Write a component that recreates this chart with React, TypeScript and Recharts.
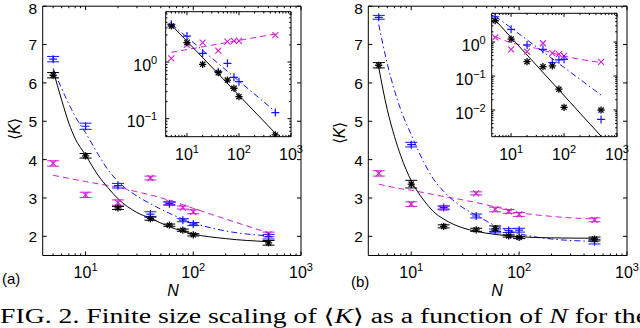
import React from 'react';
import { ComposedChart, XAxis, YAxis, Line, Scatter, ErrorBar } from 'recharts';

// ---------------- data ----------------
const N = [5, 10, 20, 40, 60, 80, 100, 500];
const fitN = [5, 6, 7, 8, 10, 13, 16, 20, 30, 40, 60, 100, 200, 500];

// panel (a) main
const aBlackK = [6.2, 4.1, 2.74, 2.46, 2.29, 2.16, 2.04, 1.83];
const aBlackErr = [0.07, 0.06, 0.04, 0.04, 0.03, 0.03, 0.03, 0.06];
const aBlueK = [6.62, 4.87, 3.32, 2.58, 2.85, 2.42, 2.32, 1.99];
const aBlueErr = [0.07, 0.08, 0.06, 0.06, 0.04, 0.04, 0.04, 0.06];
const aMagK = [3.9, 3.08, 2.88, 3.52, 2.87, 2.75, 2.64, 2.05];
const aMagErr = [0.07, 0.07, 0.07, 0.05, 0.04, 0.04, 0.05, 0.06];
const aBlackFit = [6.33, 5.55, 4.95, 4.55, 4.12, 3.6, 3.28, 2.98, 2.62, 2.47, 2.25, 2.06, 1.94, 1.86];
const aBlueFit = [6.38, 5.85, 5.45, 5.13, 4.7, 4.15, 3.75, 3.43, 3.05, 2.85, 2.6, 2.35, 2.14, 2.01];
const aMagFit = [3.59, 3.55, 3.51, 3.48, 3.43, 3.37, 3.33, 3.28, 3.16, 3.08, 2.94, 2.73, 2.45, 2.09];

// panel (b) main
const bBlackK = [6.46, 3.36, 2.26, 2.17, 2.2, 2.01, 1.97, 1.93];
const bBlackErr = [0.07, 0.1, 0.04, 0.04, 0.07, 0.03, 0.03, 0.05];
const bBlueK = [7.71, 4.39, 2.75, 2.53, 2.14, 2.15, 2.16, 1.86];
const bBlueErr = [0.05, 0.06, 0.04, 0.05, 0.05, 0.05, 0.05, 0.06];
const bMagK = [3.64, 2.84, 2.74, 3.12, 2.7, 2.65, 2.57, 2.43];
const bMagErr = [0.07, 0.06, 0.05, 0.04, 0.06, 0.05, 0.05, 0.05];
const bBlackFit = [6.4, 5.3, 4.6, 4.1, 3.45, 2.95, 2.65, 2.45, 2.22, 2.13, 2.05, 1.99, 1.96, 1.95];
const bBlueFit = [7.52, 6.5, 5.8, 5.3, 4.65, 3.95, 3.5, 3.17, 2.75, 2.55, 2.28, 2.07, 1.93, 1.87];
const bMagFit = [3.36, 3.31, 3.27, 3.24, 3.2, 3.14, 3.09, 3.04, 2.95, 2.88, 2.77, 2.62, 2.52, 2.45];

// inset (a)
const iaBlack = [4.31, 2.19, 0.91, 0.65, 0.48, 0.344, 0.244, 0.0516];
const iaBlue = [4.62, 2.87, 1.42, 0.674, 0.949, 0.537, 0.45, 0.128];
const iaMag = [1.16, 2.0, 2.19, 1.58, 2.28, 2.35, 2.35, 2.99];
const iaFitN = [5, 500];
const iaBlackFit = [4.5, 0.0553];
const iaBlueFit = [4.68, 0.133];
const iaMagFit = [1.48, 3.12];

// inset (b)
const ibBlack = [4.23, 1.22, 0.264, 0.188, 0.2, 0.041, 0.012, 0.01];
const ibBlue = [5.55, 2.36, 0.82, 0.61, 0.25, 0.3, 0.31, 0.0053];
const ibMag = [1.37, 0.61, 0.52, 0.92, 0.47, 0.44, 0.39, 0.26];
const ibFitN = [5, 500];
const ibBlackFit = [4.44, 0.0017];
const ibBlueFit = [5.8, 0.0276];
const ibMagFitN = [5, 10, 20, 30, 80, 200, 500];
const ibMagFit = [1.43, 0.95, 0.76, 0.65, 0.42, 0.31, 0.25];

// ticks
const mainXMajors = [10, 100, 1000];
const mainXMinors = [5, 6, 7, 8, 9, 20, 30, 40, 50, 60, 70, 80, 90, 200, 300, 400, 500, 600, 700, 800, 900];
const logXLabels = [{ base: '10', sup: '1' }, { base: '10', sup: '2' }, { base: '10', sup: '3' }];
const mainYTicks = [2, 3, 4, 5, 6, 7, 8];
const mainYLabels = [
  { base: '2' },
  { base: '3' },
  { base: '4' },
  { base: '5' },
  { base: '6' },
  { base: '7' },
  { base: '8', dy: 2 },
];
const iaXMinors = [4, 5, 6, 7, 8, 9, 20, 30, 40, 50, 60, 70, 80, 90, 200, 300, 400, 500, 600, 700, 800, 900];
const ibXMinors = [5, 6, 7, 8, 9, 20, 30, 40, 50, 60, 70, 80, 90, 200, 300, 400, 500, 600, 700, 800, 900];
const iaYMajors = [0.1, 1];
const iaYLabels = [{ base: '10', sup: '\u22121' }, { base: '10', sup: '0' }];
const iaYMinors = [0.05, 0.06, 0.07, 0.08, 0.09, 0.2, 0.3, 0.4, 0.5, 0.6, 0.7, 0.8, 0.9, 2, 3, 4, 5, 6, 7];
const ibYMajors = [0.01, 0.1, 1];
const ibYLabels = [{ base: '10', sup: '\u22122' }, { base: '10', sup: '\u22121' }, { base: '10', sup: '0' }];
const ibYMinors = [0.002, 0.003, 0.004, 0.005, 0.006, 0.007, 0.008, 0.009, 0.02, 0.03, 0.04, 0.05, 0.06, 0.07, 0.08, 0.09, 0.2, 0.3, 0.4, 0.5, 0.6, 0.7, 0.8, 0.9, 2, 3, 4, 5, 6, 7];

// ---------------- styling ----------------
const FONT = '"Liberation Sans", Arial, Helvetica, sans-serif';
const BLACK = '#000000';
const BLUE = '#1414ff';
const MAG = '#d21ed2';

type Lbl = { base: string; sup?: string; dy?: number };
type Side = 'bottom' | 'top' | 'left' | 'right';

function mkTick(side: Side, majors: number[], labels: Lbl[] | null, cfg: { maj: number; min: number; dx?: number; dy?: number; fs?: number }) {
  return (props: any) => {
    const { x, y, payload } = props;
    const v = payload.value;
    const idx = majors.findIndex((m) => Math.abs(m - v) <= m * 1e-6);
    const len = idx >= 0 ? cfg.maj : cfg.min;
    let x2 = x;
    let y2 = y;
    if (side === 'bottom') y2 = y - len;
    else if (side === 'top') y2 = y + len;
    else if (side === 'left') x2 = x + len;
    else x2 = x - len;
    let label: any = null;
    if (labels && idx >= 0) {
      const l = labels[idx];
      const fs = cfg.fs || 16;
      const extra = l.dy || 0;
      const content = [
        <tspan key="b">{l.base}</tspan>,
        l.sup ? (
          <tspan key="s" dy={-7} fontSize={11}>
            {l.sup}
          </tspan>
        ) : null,
      ];
      if (side === 'bottom') {
        label = (
          <text x={x} y={y + (cfg.dy || 0) + extra} textAnchor="middle" fontSize={fs} fontFamily={FONT} fill="#000">
            {content}
          </text>
        );
      } else if (side === 'left') {
        label = (
          <text x={x - (cfg.dx || 0)} y={y + (cfg.dy || 0) + extra} textAnchor="end" fontSize={fs} fontFamily={FONT} fill="#000">
            {content}
          </text>
        );
      }
    }
    return (
      <g>
        <line x1={x} y1={y} x2={x2} y2={y2} stroke="#000" strokeWidth={1} />
        {label}
      </g>
    );
  };
}

const asterisk = (color: string) => (p: any) => {
  const { cx, cy } = p;
  if (cx == null || cy == null) return <g />;
  const r = 3.6;
  const d = r * 0.72;
  return (
    <g stroke={color} strokeWidth={1.3}>
      <line x1={cx - r} y1={cy} x2={cx + r} y2={cy} />
      <line x1={cx} y1={cy - r} x2={cx} y2={cy + r} />
      <line x1={cx - d} y1={cy - d} x2={cx + d} y2={cy + d} />
      <line x1={cx - d} y1={cy + d} x2={cx + d} y2={cy - d} />
    </g>
  );
};
const plus = (color: string) => (p: any) => {
  const { cx, cy } = p;
  if (cx == null || cy == null) return <g />;
  const r = 4;
  return (
    <g stroke={color} strokeWidth={1.2}>
      <line x1={cx - r} y1={cy} x2={cx + r} y2={cy} />
      <line x1={cx} y1={cy - r} x2={cx} y2={cy + r} />
    </g>
  );
};
const cross = (color: string) => (p: any) => {
  const { cx, cy } = p;
  if (cx == null || cy == null) return <g />;
  const r = 3;
  return (
    <g stroke={color} strokeWidth={1.1}>
      <line x1={cx - r} y1={cy - r} x2={cx + r} y2={cy + r} />
      <line x1={cx - r} y1={cy + r} x2={cx + r} y2={cy - r} />
    </g>
  );
};

const rows = (xs: number[], ys: number[], es?: number[]) => xs.map((n, i) => ({ n, y: ys[i], e: es ? es[i] : 0 }));

type SeriesSpec = { data: any[]; shape: any; color: string; err?: boolean };
type LineSpec = { data: any[]; color: string; dash?: string; curve: 'monotone' | 'linear' };

type PlotProps = {
  left: number;
  top: number;
  width: number;
  height: number;
  // plot-area box inside the container
  box: { top: number; right: number; bottom: number; left: number };
  xDomain: [number, number];
  yDomain: [number, number];
  yLog: boolean;
  xTicks: number[];
  xMajors: number[];
  yTicks: number[];
  yMajors: number[];
  yLabels: Lbl[];
  tick: { maj: number; min: number };
  xLabelDy: number;
  yLabelDx: number;
  yLabelDy: number;
  yFs?: number;
  series: SeriesSpec[];
  lines: LineSpec[];
};

function Plot(p: PlotProps) {
  const common = { maj: p.tick.maj, min: p.tick.min };
  const margin = {
    top: p.box.top - 1,
    left: p.box.left - 1,
    right: p.box.right - 1,
    bottom: p.box.bottom - 1,
  };
  return (
    <div style={{ position: 'absolute', left: p.left, top: p.top, width: p.width, height: p.height }}>
      <ComposedChart width={p.width} height={p.height} margin={margin}>
        <XAxis
          xAxisId="b"
          dataKey="n"
          type="number"
          scale="log"
          domain={p.xDomain}
          allowDataOverflow
          ticks={p.xTicks}
          interval={0}
          orientation="bottom"
          height={1}
          tickSize={0}
          tickMargin={0}
          tickLine={false}
          axisLine={{ stroke: '#000', strokeWidth: 1 }}
          tick={mkTick('bottom', p.xMajors, logXLabels, { ...common, dy: p.xLabelDy })}
        />
        <XAxis
          xAxisId="t"
          dataKey="n"
          type="number"
          scale="log"
          domain={p.xDomain}
          allowDataOverflow
          ticks={p.xTicks}
          interval={0}
          orientation="top"
          height={1}
          tickSize={0}
          tickMargin={0}
          tickLine={false}
          axisLine={{ stroke: '#000', strokeWidth: 1 }}
          tick={mkTick('top', p.xMajors, null, common)}
        />
        <YAxis
          yAxisId="l"
          dataKey="y"
          type="number"
          scale={p.yLog ? 'log' : 'linear'}
          domain={p.yDomain}
          allowDataOverflow
          ticks={p.yTicks}
          interval={0}
          orientation="left"
          width={1}
          tickSize={0}
          tickMargin={0}
          tickLine={false}
          axisLine={{ stroke: '#000', strokeWidth: 1 }}
          tick={mkTick('left', p.yMajors, p.yLabels, { ...common, dx: p.yLabelDx, dy: p.yLabelDy, fs: p.yFs })}
        />
        <YAxis
          yAxisId="r"
          dataKey="y"
          type="number"
          scale={p.yLog ? 'log' : 'linear'}
          domain={p.yDomain}
          allowDataOverflow
          ticks={p.yTicks}
          interval={0}
          orientation="right"
          width={1}
          tickSize={0}
          tickMargin={0}
          tickLine={false}
          axisLine={{ stroke: '#000', strokeWidth: 1 }}
          tick={mkTick('right', p.yMajors, null, common)}
        />
        {p.lines.map((l, i) => (
          <Line
            key={'l' + i}
            xAxisId="b"
            yAxisId="l"
            data={l.data}
            dataKey="y"
            type={l.curve}
            stroke={l.color}
            strokeWidth={1}
            strokeDasharray={l.dash}
            dot={false}
            activeDot={false}
            isAnimationActive={false}
          />
        ))}
        {p.series.map((s, i) => (
          <Scatter
            key={'s' + i}
            xAxisId="b"
            yAxisId="l"
            data={s.data}
            dataKey="y"
            shape={s.shape}
            isAnimationActive={false}
          >
            {s.err ? (
              <ErrorBar dataKey="e" direction="y" width={6} stroke={s.color} strokeWidth={1} isAnimationActive={false} />
            ) : null}
          </Scatter>
        ))}
      </ComposedChart>
    </div>
  );
}

const DASH = '6 4';
const DASHDOT = '6 3 1.5 3';

function mainLines(bk: number[], bl: number[], mg: number[]): LineSpec[] {
  return [
    { data: rows(fitN, mg), color: MAG, dash: DASH, curve: 'monotone' },
    { data: rows(fitN, bl), color: BLUE, dash: DASHDOT, curve: 'monotone' },
    { data: rows(fitN, bk), color: BLACK, curve: 'monotone' },
  ];
}

export default function App() {
  const mainTick = { maj: 4, min: 2 };
  const insetTick = { maj: 3.5, min: 1.8 };
  return (
    <div style={{ position: 'absolute', left: 0, top: 0, width: 640, height: 328, background: '#fff', overflow: 'hidden' }}>
      {/* panel (a) main */}
      <Plot
        left={0}
        top={-10}
        width={320}
        height={310}
        box={{ top: 16.2, left: 42.7, right: 19, bottom: 44.5 }}
        xDomain={[4, 1000]}
        yDomain={[1.5, 8]}
        yLog={false}
        xTicks={[...mainXMinors, ...mainXMajors].sort((a, b) => a - b)}
        xMajors={mainXMajors}
        yTicks={mainYTicks}
        yMajors={mainYTicks}
        yLabels={mainYLabels}
        tick={mainTick}
        xLabelDy={22.8}
        yLabelDx={5.5}
        yLabelDy={5.9}
        yFs={15.5}
        lines={mainLines(aBlackFit, aBlueFit, aMagFit)}
        series={[
          { data: rows(N, aMagK, aMagErr), shape: cross(MAG), color: MAG, err: true },
          { data: rows(N, aBlueK, aBlueErr), shape: plus(BLUE), color: BLUE, err: true },
          { data: rows(N, aBlackK, aBlackErr), shape: asterisk(BLACK), color: BLACK, err: true },
        ]}
      />
      {/* panel (b) main */}
      <Plot
        left={320}
        top={-10}
        width={320}
        height={310}
        box={{ top: 16.2, left: 48.3, right: 13, bottom: 44.5 }}
        xDomain={[4, 1000]}
        yDomain={[1.5, 8]}
        yLog={false}
        xTicks={[...mainXMinors, ...mainXMajors].sort((a, b) => a - b)}
        xMajors={mainXMajors}
        yTicks={mainYTicks}
        yMajors={mainYTicks}
        yLabels={mainYLabels}
        tick={mainTick}
        xLabelDy={22.8}
        yLabelDx={5.5}
        yLabelDy={5.9}
        yFs={15.5}
        lines={mainLines(bBlackFit, bBlueFit, bMagFit)}
        series={[
          { data: rows(N, bMagK, bMagErr), shape: cross(MAG), color: MAG, err: true },
          { data: rows(N, bBlueK, bBlueErr), shape: plus(BLUE), color: BLUE, err: true },
          { data: rows(N, bBlackK, bBlackErr), shape: asterisk(BLACK), color: BLACK, err: true },
        ]}
      />
      {/* inset (a) */}
      <div style={{ position: 'absolute', left: 165.7, top: 11.7, width: 125.3, height: 125, background: '#fff' }} />
      <Plot
        left={100}
        top={-10}
        width={220}
        height={185}
        box={{ top: 21.7, left: 65.7, right: 29, bottom: 38.3 }}
        xDomain={[3.9, 1000]}
        yDomain={[0.0481, 7.71]}
        yLog={true}
        xTicks={[...iaXMinors, ...mainXMajors].sort((a, b) => a - b)}
        xMajors={mainXMajors}
        yTicks={[...iaYMinors, ...iaYMajors].sort((a, b) => a - b)}
        yMajors={iaYMajors}
        yLabels={iaYLabels}
        tick={insetTick}
        xLabelDy={23}
        yLabelDx={8.5}
        yLabelDy={8.7}
        lines={[
          { data: rows(iaFitN, iaMagFit), color: MAG, dash: DASH, curve: 'linear' },
          { data: rows(iaFitN, iaBlueFit), color: BLUE, dash: DASHDOT, curve: 'linear' },
          { data: rows(iaFitN, iaBlackFit), color: BLACK, curve: 'linear' },
        ]}
        series={[
          { data: rows(N, iaMag), shape: cross(MAG), color: MAG },
          { data: rows(N, iaBlue), shape: plus(BLUE), color: BLUE },
          { data: rows(N, iaBlack), shape: asterisk(BLACK), color: BLACK },
        ]}
      />
      {/* inset (b) */}
      <div style={{ position: 'absolute', left: 491.7, top: 13.3, width: 125.3, height: 123.4, background: '#fff' }} />
      <Plot
        left={430}
        top={-10}
        width={210}
        height={185}
        box={{ top: 23.3, left: 61.7, right: 23, bottom: 38.3 }}
        xDomain={[4.3, 1000]}
        yDomain={[0.00164, 7.0]}
        yLog={true}
        xTicks={[...ibXMinors, ...mainXMajors].sort((a, b) => a - b)}
        xMajors={mainXMajors}
        yTicks={[...ibYMinors, ...ibYMajors].sort((a, b) => a - b)}
        yMajors={ibYMajors}
        yLabels={ibYLabels}
        tick={insetTick}
        xLabelDy={23}
        yLabelDx={6}
        yLabelDy={8.7}
        lines={[
          { data: rows(ibMagFitN, ibMagFit), color: MAG, dash: DASH, curve: 'monotone' },
          { data: rows(ibFitN, ibBlueFit), color: BLUE, dash: DASHDOT, curve: 'linear' },
          { data: rows(ibFitN, ibBlackFit), color: BLACK, curve: 'linear' },
        ]}
        series={[
          { data: rows(N, ibMag), shape: cross(MAG), color: MAG },
          { data: rows(N, ibBlue), shape: plus(BLUE), color: BLUE },
          { data: rows(N, ibBlack), shape: asterisk(BLACK), color: BLACK },
        ]}
      />
      {/* labels */}
      <svg width={640} height={328} style={{ position: 'absolute', left: 0, top: 0, pointerEvents: 'none' }}>
        <text transform="translate(20,129) rotate(-90)" textAnchor="middle" fontSize={16} fontFamily={FONT} fill="#000">
          {'\u27E8'}
          <tspan fontStyle="italic">K</tspan>
          {'\u27E9'}
        </text>
        <text transform="translate(345,133) rotate(-90)" textAnchor="middle" fontSize={16} fontFamily={FONT} fill="#000">
          {'\u27E8'}
          <tspan fontStyle="italic">K</tspan>
          {'\u27E9'}
        </text>
        <text x={173} y={296} textAnchor="middle" fontSize={16} fontStyle="italic" fontFamily={FONT} fill="#000">
          N
        </text>
        <text x={497} y={296} textAnchor="middle" fontSize={16} fontStyle="italic" fontFamily={FONT} fill="#000">
          N
        </text>
        <text x={2} y={284} fontSize={15} fontFamily={FONT} fill="#000">
          (a)
        </text>
        <text x={351} y={287} fontSize={15} fontFamily={FONT} fill="#000">
          (b)
        </text>
        <text
          x={0}
          y={323}
          fontSize={20.5}
          fontFamily='"Liberation Serif", "DejaVu Serif", serif'
          fill="#000"
          textLength={648}
          lengthAdjust="spacingAndGlyphs"
        >
          FIG. 2. Finite size scaling of {'\u27E8'}
          <tspan fontStyle="italic">K</tspan>
          {'\u27E9'} as a function of <tspan fontStyle="italic">N</tspan> for the
        </text>
      </svg>
    </div>
  );
}
